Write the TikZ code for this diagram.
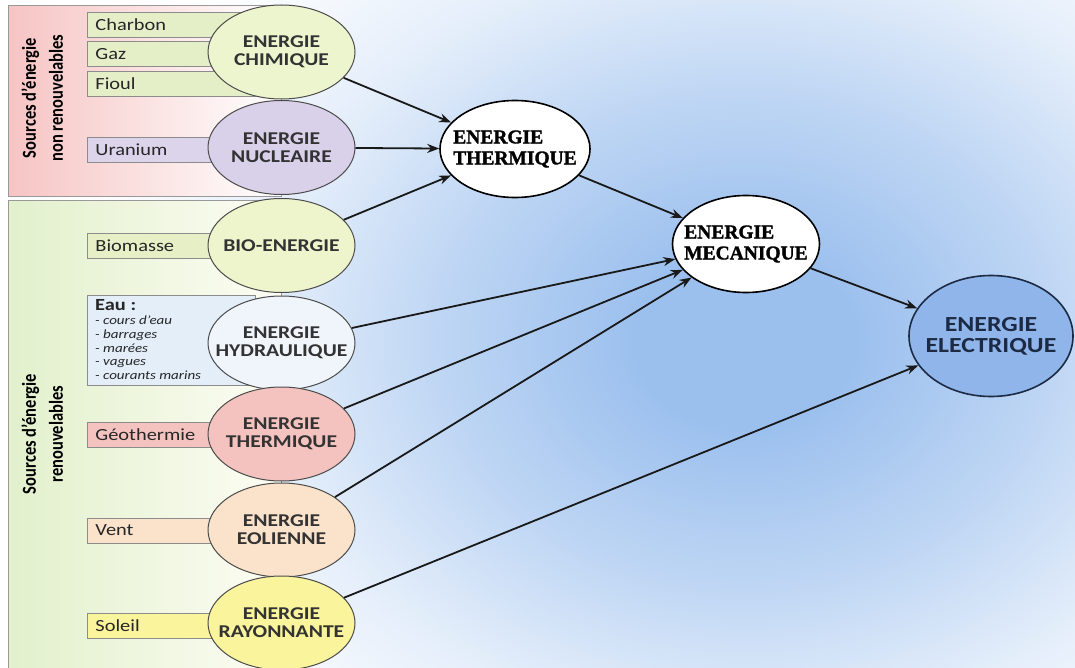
\documentclass[tikz,border=0pt]{standalone}
\usepackage{fontspec}
\usepackage{graphicx}
\usetikzlibrary{shapes.geometric,arrows.meta}
\newfontfamily\carl{Carlito}[FakeStretch=1.2]
\newfontfamily\carlv{Carlito}
\newfontfamily\tnrb{Liberation Serif Bold}[FakeBold=1.6]
\definecolor{glowc}{HTML}{9CC0EE}
\definecolor{pinkL}{HTML}{F7C4C4}
\definecolor{greenL}{HTML}{E2F0CC}
\definecolor{greenR}{HTML}{FDFDF4}
\definecolor{chimc}{HTML}{EDF5CF}
\definecolor{fossc}{HTML}{E4EFC8}
\definecolor{nucc}{HTML}{D9D0EA}
\definecolor{uranc}{HTML}{DCD4EB}
\definecolor{bioc}{HTML}{EEF5CC}
\definecolor{biomc}{HTML}{E6EFC6}
\definecolor{hydc}{HTML}{F0F5FB}
\definecolor{eauc}{HTML}{E3EEF9}
\definecolor{geoc}{HTML}{F4C3C0}
\definecolor{eolc}{HTML}{FBE2CB}
\definecolor{solc}{HTML}{FAF49C}
\definecolor{elecc}{HTML}{8FB5EA}
\definecolor{navy}{HTML}{1C2A44}
\pgfdeclareradialshading{glow}{\pgfpoint{0bp}{0bp}}{color(0bp)=(glowc); color(4bp)=(glowc); color(11bp)=(glowc!65!white); color(17bp)=(glowc!28!white); color(22bp)=(glowc!8!white); color(25bp)=(white); color(50bp)=(white)}
\tikzset{
  srcbox/.style={draw=black!45, line width=0.9pt, anchor=west, minimum height=25pt,
    text width=152pt, inner xsep=8pt, align=left, text=black!85,
    font=\carl\fontsize{17}{20}\selectfont},
  ell/.style={ellipse, draw=black!70, line width=1pt, minimum width=147pt,
    minimum height=94pt, inner xsep=-30pt, inner ysep=0pt, align=center,
    text=black!80, font=\carl\bfseries\fontsize{18}{18}\selectfont},
  mid/.style={ellipse, draw=black, line width=1.6pt, fill=white, minimum width=150pt,
    minimum height=97pt, inner xsep=-30pt, inner ysep=0pt, align=left,
    font=\tnrb\fontsize{19.5}{21}\selectfont},
  vlab/.style={rotate=90, inner sep=0pt, text=black,
    font=\carlv\bfseries\fontsize{16.5}{22.5}\selectfont},
  arr/.style={-{Stealth[length=12pt,width=9pt]}, line width=1.8pt, black!90}
}
\begin{document}
\begin{tikzpicture}[x=1pt,y=-1pt]
\useasboundingbox (0,0) rectangle (1075,668);
\begin{scope}
\clip (0,0) rectangle (1075,668);
\shade[shading=glow] (745,340) ellipse [x radius=700pt, y radius=560pt];
\path[draw=black!40, line width=1pt, left color=pinkL, right color=white] (8,6) rectangle (281,197);
\path[draw=black!40, line width=1pt, left color=greenL, right color=greenR] (8,201) rectangle (281,690);
\end{scope}

\node[vlab] (nrlab) at (44,98) {\scalebox{1}[1.2]{\begin{tabular}{@{}c@{}}Sources d’énergie\\non renouvelables\end{tabular}}};
\node[vlab] (rlab) at (44,434) {\scalebox{1}[1.2]{\begin{tabular}{@{}c@{}}Sources d’énergie\\renouvelables\end{tabular}}};

\node[srcbox, fill=fossc] (charbon) at (87,24.5) {Charbon};
\node[srcbox, fill=fossc] (gaz) at (87,54) {Gaz};
\node[srcbox, fill=fossc] (fioul) at (87,83.5) {Fioul};
\node[srcbox, fill=uranc] (uranium) at (87,149.5) {Uranium};
\node[srcbox, fill=biomc] (biomasse) at (87,245.5) {Biomasse};
\node[draw=black!45, line width=0.9pt, fill=eauc, anchor=north west, minimum width=168pt, minimum height=90pt] (eaubox) at (87,295) {};
\node[anchor=north west, inner sep=0pt, text=black!85, font=\carl\bfseries\fontsize{17}{20}\selectfont] (eautxt) at (95,299) {Eau :};
\node[anchor=north west, inner sep=0pt, align=left, text=black!85, font=\carl\itshape\fontsize{12.5}{13.7}\selectfont] (eaulist) at (95,316) {- cours d’eau\\- barrages\\- marées\\- vagues\\- courants marins};
\node[srcbox, fill=geoc] (geoth) at (87,434.5) {Géothermie};
\node[srcbox, fill=eolc] (vent) at (87,530.5) {Vent};
\node[srcbox, fill=solc] (soleil) at (87,625.5) {Soleil};

\node[ell, fill=chimc] (chim) at (281.5,52) {ENERGIE\\CHIMIQUE};
\node[ell, fill=nucc] (nuc) at (281.5,147.5) {ENERGIE\\NUCLEAIRE};
\node[ell, fill=bioc] (bio) at (281.5,245.5) {BIO-ENERGIE};
\node[ell, fill=hydc] (hyd) at (281.5,343) {ENERGIE\\HYDRAULIQUE};
\node[ell, fill=geoc] (geo) at (281.5,434) {ENERGIE\\THERMIQUE};
\node[ell, fill=eolc] (eol) at (281.5,530) {ENERGIE\\EOLIENNE};
\node[ell, fill=solc] (ray) at (281.5,623) {ENERGIE\\RAYONNANTE};

\node[mid] (therm) at (515,149) {ENERGIE\\THERMIQUE};
\node[mid, minimum width=147pt] (meca) at (746,244) {ENERGIE\\MECANIQUE};
\node[ellipse, draw=navy, line width=1.6pt, fill=elecc, minimum width=164pt,
  minimum height=121pt, inner xsep=-30pt, inner ysep=0pt, align=center, text=navy,
  font=\carl\bfseries\fontsize{21.5}{21}\selectfont] (elec) at (991,336) {ENERGIE\\ELECTRIQUE};

\draw[arr] (chim) -- (therm);
\draw[arr] (nuc) -- (therm);
\draw[arr] (bio) -- (therm);
\draw[arr] (therm) -- (meca);
\draw[arr] (hyd) -- (meca);
\draw[arr] (geo) -- (meca);
\draw[arr] (eol) -- (meca);
\draw[arr] (meca) -- (elec);
\draw[arr] (ray) -- (elec);
\end{tikzpicture}
\end{document}
